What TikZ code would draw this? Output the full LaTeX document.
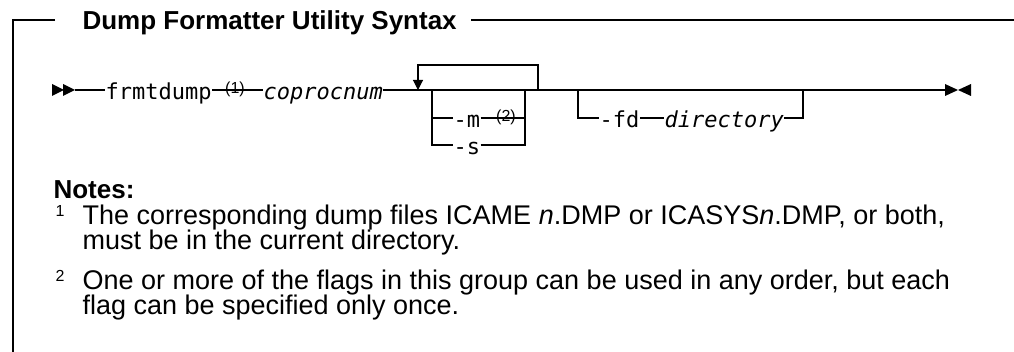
\documentclass[tikz,border=0pt]{standalone}
\usepackage{fontspec}
\setmainfont{Liberation Sans}
\newfontfamily\synfont{DejaVu Sans Mono}
\usetikzlibrary{arrows.meta}

\begin{document}
\begin{tikzpicture}[x=1pt,y=-1pt,line width=1.1pt,
  kw/.style={anchor=west,inner sep=0pt,text height=20pt,text depth=0pt,
    font=\synfont\fontsize{22}{22}\selectfont},
  var/.style={kw,font=\synfont\itshape\fontsize{22}{22}\selectfont},
  fnref/.style={anchor=base,inner sep=0pt,font=\fontsize{16}{16}\selectfont},
  txt/.style={anchor=base west,inner sep=0pt,font=\fontsize{27}{25}\selectfont},
  hd/.style={anchor=base west,inner sep=0pt,font=\bfseries\fontsize{26}{26}\selectfont},
  rep/.style={-{Triangle[length=10pt,width=10pt]}}]
\useasboundingbox (0,0) rectangle (1014,352);
% ---------- frame and title ----------
\node[hd] (ttl) at (82,30) {Dump Formatter Utility Syntax};
\coordinate (tr) at ([xshift=14pt]ttl.east);
\draw (55,20) -- (13,20) -- (13,352);
\draw (tr |- 0,20) -- (1014,20);
% ---------- main line ----------
\foreach \x in {52,63} \fill (\x,84) -- ++(12,6) -- ++(-12,6) -- cycle;
\coordinate (st) at (75,90);
\node[kw] (frmt) at (105,90) {frmtdump};
\node[var] (cop) at (263,90) {coprocnum};
\node[fnref] (r1) at (235,94) {(1)};
\coordinate (fin) at (945,90);
\draw (st) -- (frmt) -- (cop) -- (fin);
\fill (945,84) -- (958,90) -- (945,96) -- cycle;
\fill (971,84) -- (958,90) -- (971,96) -- cycle;
% ---------- repeat loop ----------
\coordinate (lpl) at (418,90);
\coordinate (lpr) at (538,90);
\draw[rep] (lpr) -- ++(0,-25) -| (lpl);
% ---------- -m / -s group ----------
\coordinate (gl) at (432,90);
\coordinate (gr) at (525,90);
\node[kw] (om) at (453,118) {-m};
\node[kw] (os) at (453,145) {-s};
\node[fnref] (r2) at (506,122) {(2)};
\draw (gl) |- (om) -| (gr);
\draw (gl) |- (os) -| (gr);
% ---------- -fd group ----------
\coordinate (fl) at (578,90);
\coordinate (fr) at (803,90);
\node[kw] (ofd) at (599,118) {-fd};
\node[var] (dir) at (664,118) {directory};
\draw (fl) |- (ofd) -- (dir) -| (fr);
% ---------- notes ----------
\node[hd] (nts) at (53,199) {Notes:};
\node[fnref,anchor=base west] (s1) at (55,217) {1};
\node[txt] (n1a) at (82,225) {The corresponding dump files ICAME \textit{n}.DMP or ICASYS\textit{n}.DMP, or both,};
\node[txt] (n1b) at (82,250) {must be in the current directory.};
\node[fnref,anchor=base west] (s2) at (55,282) {2};
\node[txt] (n2a) at (82,290) {One or more of the flags in this group can be used in any order, but each};
\node[txt] (n2b) at (82,315) {flag can be specified only once.};
\end{tikzpicture}
\end{document}
